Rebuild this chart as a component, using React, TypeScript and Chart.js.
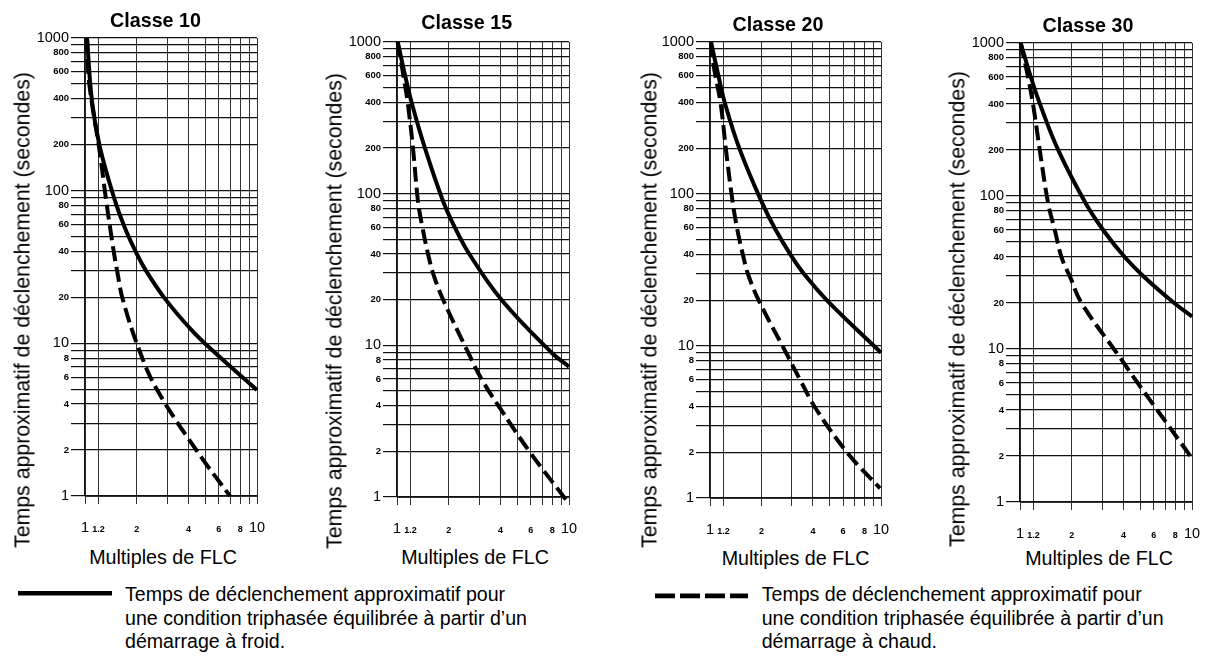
import React, { useEffect, useRef } from "react";
import { Chart, registerables } from "chart.js";

Chart.register(...registerables);

const FONT = "'Liberation Sans', Arial, Helvetica, sans-serif";

// ---------- texts ----------
const panelTitles = ["Classe 10", "Classe 15", "Classe 20", "Classe 30"];
const yAxisTitle = "Temps approximatif de déclenchement (secondes)";
const xAxisTitle = "Multiples de FLC";
const legendCold = [
  "Temps de déclenchement approximatif pour",
  "une condition triphasée équilibrée à partir d’un",
  "démarrage à froid.",
];
const legendHot = [
  "Temps de déclenchement approximatif pour",
  "une condition triphasée équilibrée à partir d’un",
  "démarrage à chaud.",
];

// ---------- ticks ----------
const xTickValues = [1, 1.2, 2, 3, 4, 5, 6, 7, 8, 9, 10];
const xTickLabels = ["1", "1.2", "2", "", "4", "", "6", "", "8", "", "10"];
const yTickValues = [
  1, 2, 3, 4, 5, 6, 7, 8, 9, 10, 20, 30, 40, 50, 60, 70, 80, 90, 100, 200, 300,
  400, 500, 600, 700, 800, 900, 1000,
];
const yTickLabels = [
  "1", "2", "", "4", "", "6", "", "8", "", "10", "20", "", "40", "", "60", "",
  "80", "", "100", "200", "", "400", "", "600", "", "800", "", "1000",
];
const majorValues = [1, 10, 100, 1000];

// ---------- data (multiples of FLC -> seconds) ----------
const c10ColdX = [1.027, 1.098, 1.219, 1.484, 1.695, 1.99, 2.284, 2.938, 4.167, 5.497, 10];
const c10ColdY = [1000, 386, 194, 88, 58, 39, 29.4, 19.4, 12.2, 9.0, 4.94];
const c10HotX = [1.027, 1.059, 1.206, 1.324, 1.397, 1.474, 1.541, 1.656, 2.07, 2.63, 4.46, 6.96];
const c10HotY = [1000, 504, 194, 88, 58, 39, 29.4, 19.5, 9.0, 4.94, 1.98, 1];

const c15ColdX = [1.009, 1.113, 1.217, 1.455, 1.851, 2.173, 2.655, 4.06, 7.93, 10];
const c15ColdY = [1000, 606, 398, 199, 89.5, 59.7, 39.4, 19.9, 8.94, 7.23];
const c15HotX = [1.009, 1.088, 1.154, 1.239, 1.324, 1.407, 1.52, 1.626, 1.858, 2.595, 3.107, 3.918, 5.94, 9.91];
const c15HotY = [1000, 606, 398, 199, 89.5, 59.7, 39.4, 29.5, 19.9, 8.94, 5.97, 3.94, 1.97, 0.917];

const c20ColdX = [1.013, 1.121, 1.226, 1.496, 2.014, 2.41, 3.0, 3.59, 4.91, 10];
const c20ColdY = [1000, 597, 391, 195, 87.7, 58.6, 38.9, 29.3, 19.6, 9.04];
const c20HotX = [1.013, 1.045, 1.155, 1.24, 1.358, 1.444, 1.566, 1.675, 1.943, 2.81, 3.41, 4.17, 6.44, 9.87];
const c20HotY = [1000, 724, 391, 195, 87.7, 58.6, 38.8, 29.3, 19.6, 8.86, 5.82, 3.85, 1.95, 1.158];

const c30ColdX = [1.009, 1.162, 1.318, 1.684, 2.423, 3.066, 4.083, 5.252, 7.91, 10];
const c30ColdY = [1000, 588, 388, 195, 88.7, 59.3, 39.6, 29.7, 19.9, 16.3];
const c30HotX = [1.009, 1.117, 1.195, 1.307, 1.46, 1.597, 1.747, 1.953, 2.284, 3.76, 4.82, 6.22, 10];
const c30HotY = [1000, 588, 388, 195, 88.7, 59.3, 39.5, 29.7, 19.9, 9.0, 6.02, 4.05, 1.93];

type Series = { coldX: number[]; coldY: number[]; hotX: number[]; hotY: number[] };
const seriesList: Series[] = [
  { coldX: c10ColdX, coldY: c10ColdY, hotX: c10HotX, hotY: c10HotY },
  { coldX: c15ColdX, coldY: c15ColdY, hotX: c15HotX, hotY: c15HotY },
  { coldX: c20ColdX, coldY: c20ColdY, hotX: c20HotX, hotY: c20HotY },
  { coldX: c30ColdX, coldY: c30ColdY, hotX: c30HotX, hotY: c30HotY },
];

// ---------- layout (pixels) ----------
type Frame = {
  left: number; right: number; top: number; bottom: number;
  titleX: number; titleY: number; yTitleX: number; yTitleY: number;
  xTitleX: number; xTitleY: number;
};
const frames: Frame[] = [
  { left: 85, right: 257, top: 38, bottom: 496, titleX: 155.5, titleY: 19.5, yTitleX: 23, yTitleY: 310, xTitleX: 163, xTitleY: 557 },
  { left: 397, right: 569, top: 42, bottom: 497, titleX: 466.7, titleY: 21.5, yTitleX: 335, yTitleY: 311, xTitleX: 475, xTitleY: 557 },
  { left: 710, right: 881, top: 42, bottom: 498, titleX: 778, titleY: 23.5, yTitleX: 650, yTitleY: 309.5, xTitleX: 795.5, xTitleY: 558 },
  { left: 1020, right: 1192, top: 43, bottom: 502, titleX: 1088, titleY: 24.5, yTitleX: 958, yTitleY: 309, xTitleX: 1099, xTitleY: 557.5 },
];

const Y_AXIS_W = 60;
const PAD_TOP = 14;
const PAD_RIGHT = 26;
const X_AXIS_H = 44;

function labelFor(values: number[], labels: string[], v: number): string {
  const i = values.findIndex((t) => Math.abs(t - v) < 1e-6 * Math.max(1, t));
  return i >= 0 ? labels[i] : "";
}
function isMajor(v: number): boolean {
  return majorValues.some((m) => Math.abs(m - v) < 1e-6 * m);
}

function LogPanel({ s, f }: { s: Series; f: Frame }) {
  const ref = useRef<HTMLCanvasElement | null>(null);
  const w = Y_AXIS_W + (f.right - f.left) + PAD_RIGHT;
  const h = PAD_TOP + (f.bottom - f.top) + X_AXIS_H;

  useEffect(() => {
    const canvas = ref.current;
    if (!canvas) return;
    const chart = new Chart(canvas, {
      type: "line",
      data: {
        datasets: [
          {
            label: "froid",
            data: s.coldX.map((x, i) => ({ x, y: s.coldY[i] })),
            borderColor: "#000",
            borderWidth: 4,
            pointRadius: 0,
            fill: false,
            tension: 0.4,
            borderCapStyle: "butt",
            clip: 8,
          },
          {
            label: "chaud",
            data: s.hotX.map((x, i) => ({ x, y: s.hotY[i] })),
            borderColor: "#000",
            borderWidth: 4,
            borderDash: [15, 6],
            pointRadius: 0,
            fill: false,
            tension: 0.4,
            borderCapStyle: "butt",
            clip: 8,
          },
        ],
      },
      options: {
        animation: false,
        responsive: false,
        events: [],
        layout: { padding: { top: PAD_TOP, right: PAD_RIGHT, left: 0, bottom: 0 } },
        plugins: {
          legend: { display: false },
          tooltip: { enabled: false },
          title: { display: false },
        },
        scales: {
          x: {
            type: "logarithmic",
            min: 1,
            max: 10,
            afterBuildTicks: (scale: any) => {
              scale.ticks = xTickValues.map((v) => ({ value: v }));
            },
            afterFit: (scale: any) => {
              scale.height = X_AXIS_H;
            },
            ticks: {
              autoSkip: false,
              maxRotation: 0,
              minRotation: 0,
              padding: 15,
              color: "#000",
              callback: (v: any) => labelFor(xTickValues, xTickLabels, Number(v)),
              font: (ctx: any) =>
                ctx.tick && isMajor(ctx.tick.value)
                  ? { family: FONT, size: 14.5, lineHeight: 1.2 }
                  : { family: FONT, size: 9, weight: "bold", lineHeight: "21px" },
            },
            grid: { color: "#333", lineWidth: 1, tickLength: 8, drawTicks: true },
            border: { display: true, color: "#333", width: 1 },
          },
          y: {
            type: "logarithmic",
            min: 1,
            max: 1000,
            afterBuildTicks: (scale: any) => {
              scale.ticks = yTickValues.map((v) => ({ value: v }));
            },
            afterFit: (scale: any) => {
              scale.width = Y_AXIS_W;
            },
            ticks: {
              autoSkip: false,
              padding: 2,
              color: "#000",
              callback: (v: any) => labelFor(yTickValues, yTickLabels, Number(v)),
              font: (ctx: any) =>
                ctx.tick && isMajor(ctx.tick.value)
                  ? { family: FONT, size: 14.5 }
                  : { family: FONT, size: 9.5, weight: "bold" },
            },
            grid: { color: "#111", lineWidth: 1.2, tickLength: 14, drawTicks: true },
            border: { display: true, color: "#111", width: 1.2 },
          },
        },
      } as any,
    });
    return () => chart.destroy();
  }, [s, f]);

  return (
    <canvas
      ref={ref}
      width={w}
      height={h}
      style={{ position: "absolute", left: f.left - Y_AXIS_W, top: f.top - PAD_TOP, width: w, height: h }}
    />
  );
}

export default function App() {
  return (
    <div
      style={{
        position: "fixed",
        left: 0,
        top: 0,
        width: 1210,
        height: 663,
        background: "#fff",
        overflow: "hidden",
        color: "#000",
        fontFamily: FONT,
      }}
    >
      {frames.map((f, i) => (
        <React.Fragment key={i}>
          <LogPanel s={seriesList[i]} f={f} />
          <div
            style={{
              position: "absolute",
              left: f.titleX,
              top: f.titleY,
              transform: "translate(-50%,-50%)",
              font: `bold 19.7px ${FONT}`,
              whiteSpace: "nowrap",
            }}
          >
            {panelTitles[i]}
          </div>
          <div
            style={{
              position: "absolute",
              left: f.yTitleX,
              top: f.yTitleY,
              transform: "translate(-50%,-50%) rotate(-90deg)",
              font: `21.3px ${FONT}`,
              whiteSpace: "nowrap",
            }}
          >
            {yAxisTitle}
          </div>
          <div
            style={{
              position: "absolute",
              left: f.xTitleX,
              top: f.xTitleY,
              transform: "translate(-50%,-50%)",
              font: `19.7px ${FONT}`,
              whiteSpace: "nowrap",
            }}
          >
            {xAxisTitle}
          </div>
        </React.Fragment>
      ))}

      <svg style={{ position: "absolute", left: 16, top: 588 }} width={100} height={11}>
        <line x1={2} y1={5.3} x2={96} y2={5.3} stroke="#000" strokeWidth={4.5} />
      </svg>
      <div
        style={{
          position: "absolute",
          left: 125,
          top: 583.3,
          font: `19.6px ${FONT}`,
          lineHeight: "23.3px",
          whiteSpace: "nowrap",
        }}
      >
        {legendCold.map((t, i) => (
          <div key={i}>{t}</div>
        ))}
      </div>

      <svg style={{ position: "absolute", left: 653, top: 590 }} width={100} height={12}>
        <line x1={2} y1={5.8} x2={95} y2={5.8} stroke="#000" strokeWidth={4.8} strokeDasharray="20 5" />
      </svg>
      <div
        style={{
          position: "absolute",
          left: 761.7,
          top: 583.3,
          font: `19.6px ${FONT}`,
          lineHeight: "23.3px",
          whiteSpace: "nowrap",
        }}
      >
        {legendHot.map((t, i) => (
          <div key={i}>{t}</div>
        ))}
      </div>
    </div>
  );
}
